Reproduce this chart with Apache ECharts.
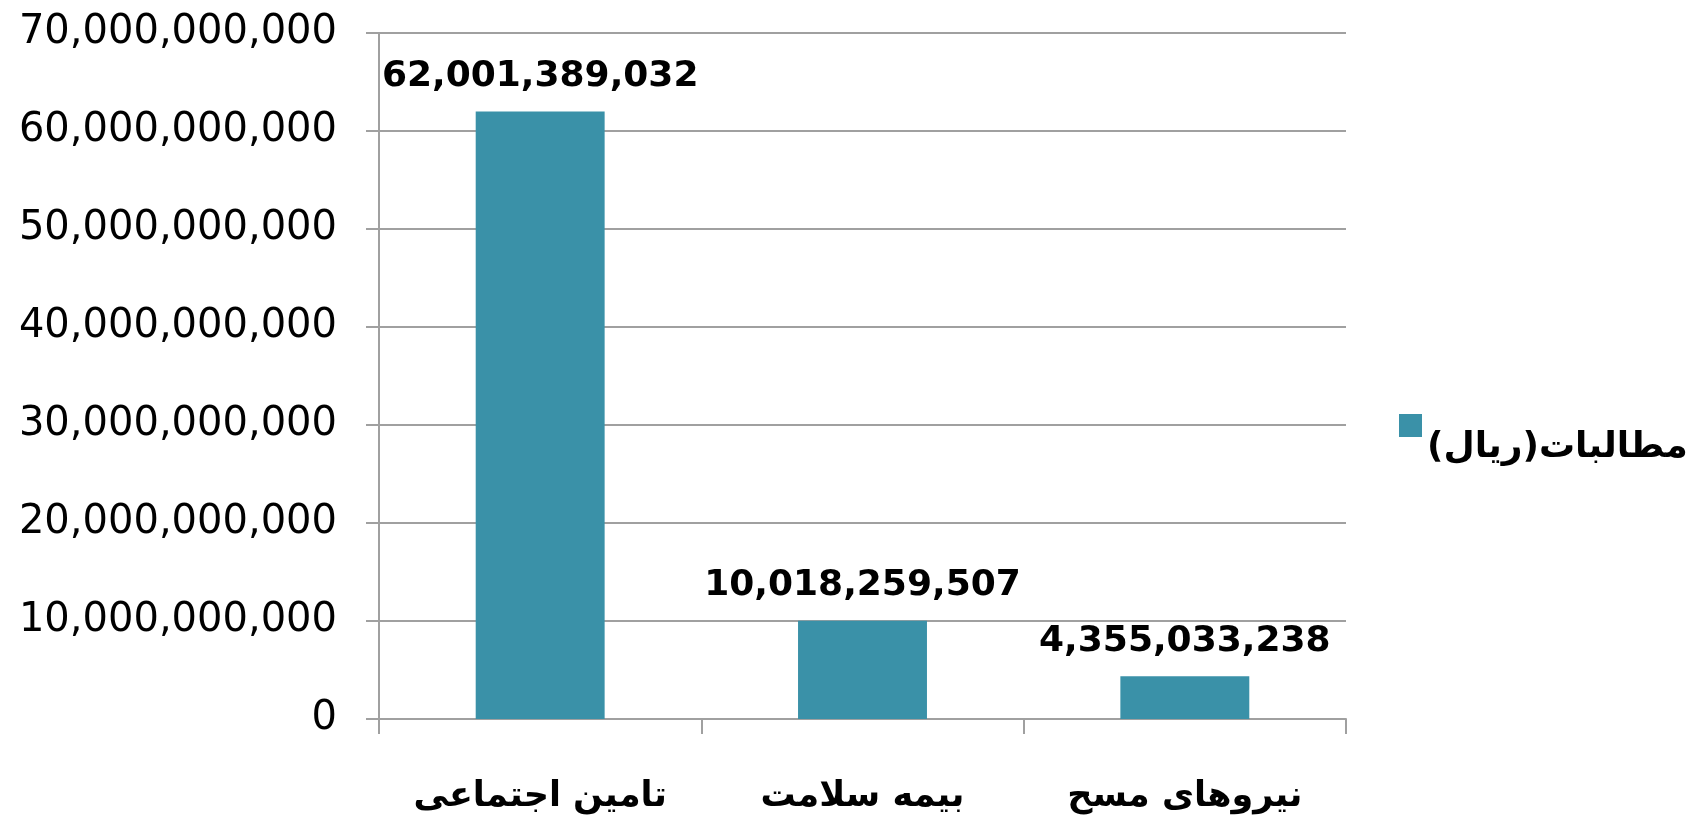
<!DOCTYPE html>
<html lang="fa">
<head>
	<meta charset="UTF-8">
	<title>مطالبات</title>
	<script src="https://cdn.jsdelivr.net/npm/echarts@6/dist/echarts.min.js"></script>
	<style>
		html,body{margin:0;padding:0;background:#fff;}
		#chart{width:1688px;height:817px;}
	</style>
</head>
<body>
<div id="chart"></div>
<script>
	var categories = ['تامین اجتماعی', 'بیمه سلامت', 'نیروهای مسح'];
	var claims = [62001389032, 10018259507, 4355033238];
	var seriesName = 'مطالبات(ریال)';
	var yMax = 70000000000;
	var yStep = 10000000000;

	//千分位
	function fmt(v){
		return String(v).replace(/\B(?=(\d{3})+(?!\d))/g, ',');
	}

	var myChart = echarts.init(document.getElementById('chart'));
	var option = {
		backgroundColor:'#fff',
		animation:false,
		legend: {
			data:[{name:seriesName,icon:'rect'}],
			left:1394,
			top:409,
			itemWidth:23,
			itemHeight:23,
			itemGap:0,
			formatter:function(name){return '{t|'+name+'}';},
			textStyle:{
				rich:{
					t:{
						fontFamily:'DejaVu Sans',
						fontWeight:'bold',
						fontSize:36,
						color:'#000',
						padding:[44,0,0,0]
					}
				}
			}
		},
		grid: {
			left:379,
			right:342,
			top:33,
			bottom:98
		},
		xAxis: {
			type:'category',
			data:categories,
			axisLine:{lineStyle:{color:'#a0a0a0',width:2}},
			axisTick:{show:true,interval:0,length:15,lineStyle:{color:'#a0a0a0',width:2}},
			axisLabel:{
				interval:0,
				margin:60,
				fontFamily:'DejaVu Sans',
				fontWeight:'bold',
				fontSize:35,
				color:'#000'
			}
		},
		yAxis: {
			type:'value',
			min:0,
			max:yMax,
			interval:yStep,
			axisLine:{show:true,lineStyle:{color:'#a0a0a0',width:2}},
			axisTick:{show:true,length:13,lineStyle:{color:'#a0a0a0',width:2}},
			splitLine:{lineStyle:{color:'#a0a0a0',width:2}},
			axisLabel:{
				margin:42,
				fontFamily:'DejaVu Sans',
				fontSize:40,
				color:'#000',
				formatter:function(v){return fmt(v);}
			}
		},
		series: [
			{
				name:seriesName,
				type:'bar',
				barWidth:'40%',
				itemStyle:{color:'#3a91a8'},
				label:{
					show:true,
					position:'top',
					distance:17,
					fontFamily:'DejaVu Sans',
					fontWeight:'bold',
					fontSize:36,
					color:'#000',
					formatter:function(p){return fmt(p.value);}
				},
				data:claims
			}
		]
	};
	myChart.setOption(option);
</script>
</body>
</html>
